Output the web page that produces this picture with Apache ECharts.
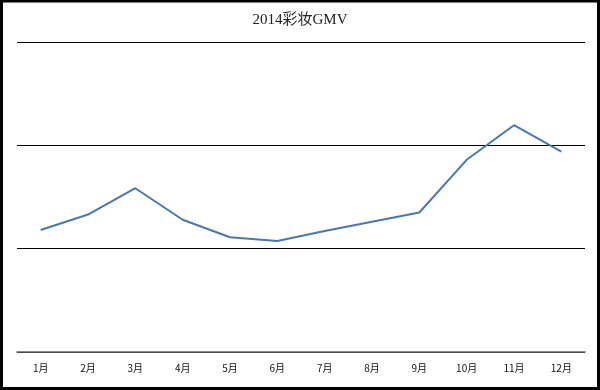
<!DOCTYPE html>
<html>
<head>
<meta charset="utf-8">
<script src="https://cdn.jsdelivr.net/npm/echarts@6/dist/echarts.min.js"></script>
<style>html,body{margin:0;padding:0;background:#fff;}#c{width:600px;height:390px;}</style>
</head>
<body>
<div id="c"></div>
<script>
var title = '2014彩妆GMV';
var months = ['1月','2月','3月','4月','5月','6月','7月','8月','9月','10月','11月','12月'];
var gmv = [11.8, 13.3, 15.85, 12.8, 11.1, 10.75, 11.7, 12.6, 13.5, 18.6, 21.95, 19.4];
var yMin = 0, yMax = 30, yStep = 10;

var chart = echarts.init(document.getElementById('c'));
chart.setOption({
  animation: false,
  backgroundColor: '#fff',
  title: {
    text: title, left: 'center', top: 8,
    textStyle: {fontFamily: '"Liberation Serif","Noto Sans CJK SC",serif', fontSize: 15, fontWeight: 'normal', color: '#222'}
  },
  graphic: [{
    type: 'rect', silent: true,
    shape: {x: 1.5, y: 1, width: 597, height: 387.5},
    style: {fill: 'none', stroke: '#000', lineWidth: 3}
  }],
  grid: {left: 17, right: 15, top: 42, bottom: 38},
  xAxis: {
    type: 'category', data: months, boundaryGap: true,
    axisLine: {lineStyle: {color: '#666', width: 1.5}},
    axisTick: {show: false},
    axisLabel: {color: '#111', fontSize: 10, margin: 11, fontFamily: '"Noto Sans CJK SC",sans-serif'}
  },
  yAxis: {
    type: 'value', min: yMin, max: yMax, interval: yStep,
    axisLabel: {show: false}, axisLine: {show: false}, axisTick: {show: false},
    splitLine: {lineStyle: {color: '#000', width: 1}}
  },
  series: [{
    type: 'line', data: gmv, showSymbol: false,
    lineStyle: {color: '#4a77ad', width: 2}
  }]
});
</script>
</body>
</html>
